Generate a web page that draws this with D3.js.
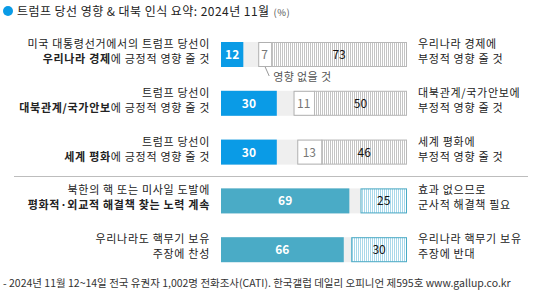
<!DOCTYPE html>
<html>
<head>
<meta charset="utf-8">
<script src="https://cdn.jsdelivr.net/npm/d3@7"></script>
<style>
  body { margin: 0; background: #fff; }
  svg text { font-family: "Noto Sans CJK KR", "Noto Sans", sans-serif; }
</style>
</head>
<body>
<script>
// data
const leftLabels = [
  [['미국 대통령선거에서의 트럼프 당선이', false]], 
  [['트럼프 당선이', false]],
  [['트럼프 당선이', false]],
  [['북한의 핵 또는 미사일 도발에', false]],
  [['우리나라도 핵무기 보유', false]]
];
const leftLabels2 = [
  [['우리나라 경제', true], ['에 긍정적 영향 줄 것', false]],
  [['대북관계/국가안보', true], ['에 긍정적 영향 줄 것', false]],
  [['세계 평화', true], ['에 긍정적 영향 줄 것', false]],
  [['평화적·외교적 해결책 찾는 노력 계속', true]],
  [['주장에 찬성', false]]
];
const rightLabels = [
  ['우리나라 경제에', '부정적 영향 줄 것'],
  ['대북관계/국가안보에', '부정적 영향 줄 것'],
  ['세계 평화에', '부정적 영향 줄 것'],
  ['효과 없으므로', '군사적 해결책 필요'],
  ['우리나라 핵무기 보유', '주장에 반대']
];
const positive = [12, 30, 30, 69, 66];
const neutral = [7, 11, 13, 0, 0];
const negative = [73, 50, 46, 25, 30];
const group = [0, 0, 0, 1, 1];

// constants
const width = 544, height = 298;
const barH = 25;
const posColors = ['#0a9be6', '#4aabc6'];
const hatchIds = ['hatchGray', 'hatchBlue'];
const hatchBorders = ['#b8b8b8', '#4aabc6'];
const labelSpacing = 0.7;

const svg = d3.select('body').append('svg')
  .attr('width', width).attr('height', height);

const defs = svg.append('defs');
function hatch(id, color) {
  const p = defs.append('pattern').attr('id', id)
    .attr('patternUnits', 'userSpaceOnUse')
    .attr('width', 2).attr('height', 4);
  p.append('rect').attr('width', 2).attr('height', 4).attr('fill', '#fff');
  p.append('rect').attr('width', 1).attr('height', 4).attr('fill', color);
}
hatch('hatchGray', '#c4c4c4');
hatch('hatchBlue', '#a9d8ea');

const x = d3.scaleLinear().domain([0, 100]).range([221, 407]);
const y = d3.scaleBand().domain(d3.range(5)).range([42, 42 + 5 * 48.8]).paddingInner(0).paddingOuter(0);

// title
svg.append('circle').attr('cx', 8).attr('cy', 11).attr('r', 5).attr('fill', '#0a9be6');
const title = svg.append('text').attr('x', 17).attr('y', 16)
  .attr('font-size', 12).attr('letter-spacing', 0.45).attr('fill', '#222');
title.append('tspan').text('트럼프 당선 영향 & 대북 인식 요약: 2024년 11월');
title.append('tspan').attr('font-size', 9.5).attr('fill', '#555').attr('dx', 4).text('(%)');

// separator
svg.append('line').attr('x1', 14).attr('x2', 528).attr('y1', 176.5).attr('y2', 176.5)
  .attr('stroke', '#bdbdbd').attr('stroke-width', 1);

const rows = svg.selectAll('g.row').data(d3.range(5)).enter().append('g').attr('class', 'row');

// background
rows.append('rect')
  .attr('x', x(0)).attr('y', i => y(i)).attr('width', x(100) - x(0)).attr('height', barH)
  .attr('fill', '#efefef');

// positive bars
rows.append('rect')
  .attr('x', x(0)).attr('y', i => y(i))
  .attr('width', i => x(positive[i]) - x(0)).attr('height', barH)
  .attr('fill', i => posColors[group[i]]);
rows.append('text')
  .attr('x', i => (x(0) + x(positive[i])) / 2).attr('y', i => y(i) + barH / 2 + 4.5)
  .attr('text-anchor', 'middle').attr('font-size', 12).attr('font-weight', 'bold')
  .attr('fill', '#fff').text(i => positive[i]);

// neutral boxes
rows.filter(i => neutral[i] > 0).append('rect')
  .attr('x', i => x(100 - negative[i] - neutral[i]) + 0.5).attr('y', i => y(i) + 0.5)
  .attr('width', i => x(neutral[i]) - x(0)).attr('height', barH - 1)
  .attr('fill', '#fff').attr('stroke', '#b0b0b0');
rows.filter(i => neutral[i] > 0).append('text')
  .attr('x', i => x(100 - negative[i] - neutral[i] / 2)).attr('y', i => y(i) + barH / 2 + 4.5)
  .attr('text-anchor', 'middle').attr('font-size', 12)
  .attr('fill', '#777').text(i => neutral[i]);

// negative bars
rows.append('rect')
  .attr('x', i => x(100 - negative[i]) + 0.5).attr('y', i => y(i) + 0.5)
  .attr('width', i => x(negative[i]) - x(0) - 1).attr('height', barH - 1)
  .attr('fill', i => `url(#${hatchIds[group[i]]})`)
  .attr('stroke', i => hatchBorders[group[i]]);
rows.append('text')
  .attr('x', i => x(100 - negative[i] / 2)).attr('y', i => y(i) + barH / 2 + 4.5)
  .attr('text-anchor', 'middle').attr('font-size', 12)
  .attr('fill', '#111').text(i => negative[i]);

// left labels (two lines, right aligned)
function leftLine(lines, dy) {
  rows.append('text')
    .attr('x', 210).attr('y', i => y(i) + dy)
    .attr('text-anchor', 'end').attr('font-size', 11).attr('letter-spacing', labelSpacing)
    .attr('fill', '#222')
    .each(function(i) {
      d3.select(this).selectAll('tspan').data(lines[i]).enter().append('tspan')
        .attr('font-weight', d => d[1] ? 'bold' : 'normal').text(d => d[0]);
    });
}
leftLine(leftLabels, 6);
leftLine(leftLabels2, 21);

// right labels
rows.append('text')
  .attr('x', 418).attr('y', i => y(i) + 6)
  .attr('font-size', 11).attr('letter-spacing', labelSpacing)
  .attr('fill', '#222').text(i => rightLabels[i][0]);
rows.append('text')
  .attr('x', 418).attr('y', i => y(i) + 21)
  .attr('font-size', 11).attr('letter-spacing', labelSpacing)
  .attr('fill', '#222').text(i => rightLabels[i][1]);

// neutral annotation
const nx = x(100 - negative[0] - neutral[0]) + 7;
svg.append('path')
  .attr('d', `M${nx},${y(0) + barH} L${nx + 4},${y(0) + barH + 9}`)
  .attr('stroke', '#999').attr('fill', 'none');
svg.append('text').attr('x', nx + 8).attr('y', y(0) + barH + 14)
  .attr('font-size', 11).attr('letter-spacing', 0.4).attr('fill', '#555').text('영향 없을 것');

// footer
svg.append('text').attr('x', 3).attr('y', 287)
  .attr('font-size', 10.5).attr('fill', '#333')
  .text('- 2024년 11월 12~14일 전국 유권자 1,002명 전화조사(CATI). 한국갤럽 데일리 오피니언 제595호 www.gallup.co.kr');
</script>
</body>
</html>
